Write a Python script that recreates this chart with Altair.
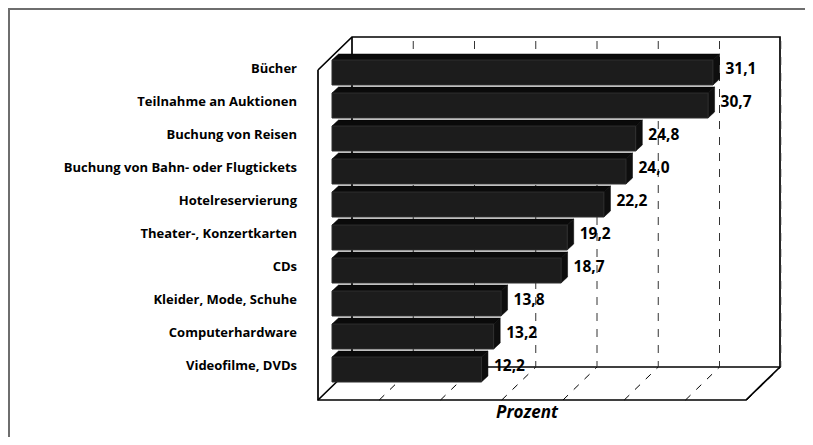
import altair as alt
import pandas as pd

categories = ["Bücher", "Teilnahme an Auktionen", "Buchung von Reisen",
              "Buchung von Bahn- oder Flugtickets", "Hotelreservierung",
              "Theater-, Konzertkarten", "CDs", "Kleider, Mode, Schuhe",
              "Computerhardware", "Videofilme, DVDs"]
values = [31.1, 30.7, 24.8, 24.0, 22.2, 19.2, 18.7, 13.8, 13.2, 12.2]
value_labels = ["31,1", "30,7", "24,8", "24,0", "22,2", "19,2", "18,7", "13,8", "13,2", "12,2"]
grid_ticks = [5, 10, 15, 20, 25, 30, 35]

W, H = 797, 429
PX_X, PX_Y = 12.25, 33.0          # pixels per unit, pixels per row
X0, Y0 = 332 - 8, 60 - 8          # where value 0 and row 0 fall inside the chart
def ux(px): return px / PX_X
def uy(px): return px / PX_Y

x_scale = alt.Scale(domain=[-X0 / PX_X, (W - X0) / PX_X], range=[0, W], nice=False, zero=False)
y_scale = alt.Scale(domain=[(H - Y0) / PX_Y, -Y0 / PX_Y], range=[H, 0], nice=False, zero=False)
X = lambda f: alt.X(f, type="quantitative", scale=x_scale, axis=None)
Y = lambda f: alt.Y(f, type="quantitative", scale=y_scale, axis=None)
X2 = lambda f: alt.X2(f)
Y2 = lambda f: alt.Y2(f)

# geometry of the box, in data units
depth_x, depth_y = ux(6.5), uy(6)
bar_h = uy(25)
back_l, back_r = ux(20), ux(448)
front_l, front_r = ux(-14), ux(414)
top_back, floor_back, floor_front, top_front = uy(-23), uy(307), uy(340), uy(10)

frame = pd.DataFrame([
    (0, front_l, top_front), (0, back_l, top_back), (0, back_r, top_back), (0, back_r, floor_back),
    (0, front_r, floor_front), (0, front_l, floor_front), (0, front_l, top_front),
    (1, back_l, top_back), (1, back_l, floor_back), (1, front_l, floor_front),
    (2, back_l, floor_back), (2, back_r, floor_back),
], columns=["id", "x", "y"]).reset_index()

frame_layer = alt.Chart(frame).mark_line(color="#000000", strokeWidth=1.7, strokeJoin="miter").encode(
    x=X("x"), y=Y("y"), detail="id:N", order="index:Q")

wall = pd.DataFrame({"x": [back_l + t for t in grid_ticks],
                     "y": [uy(-19)] * len(grid_ticks),
                     "y2": [floor_back] * len(grid_ticks)})
wall_layer = alt.Chart(wall).mark_rule(color="#333333", strokeWidth=1, strokeDash=[8, 8]).encode(
    x=X("x"), y=Y("y"), y2=Y2("y2"))

floor_rows = []
for t in grid_ticks:
    floor_rows.append((t, front_l + t, floor_front))
    floor_rows.append((t, back_l + t, floor_back))
floor = pd.DataFrame(floor_rows, columns=["id", "x", "y"]).reset_index()
floor_layer = alt.Chart(floor).mark_line(color="#000000", strokeWidth=1, strokeDash=[7, 8]).encode(
    x=X("x"), y=Y("y"), detail="id:N", order="index:Q")

rows = list(range(len(values)))
front = pd.DataFrame({"r": rows, "r2": [r + bar_h for r in rows], "v0": [0] * len(values), "v": values})
front_layer = alt.Chart(front).mark_rect(fill="#1c1c1c", stroke="#2e2e2e", strokeWidth=1).encode(
    x=X("v0"), x2=X2("v"), y=Y("r"), y2=Y2("r2"))

top_rows, side_rows = [], []
for r, v in zip(rows, values):
    top_rows += [(r, r - depth_y, depth_x, v + depth_x), (r, r, 0, v)]
    side_rows += [(r, v, r, r + bar_h), (r, v + depth_x, r - depth_y, r + bar_h - depth_y)]
top = pd.DataFrame(top_rows, columns=["id", "y", "a", "b"])
side = pd.DataFrame(side_rows, columns=["id", "x", "a", "b"])
top_layer = alt.Chart(top).mark_area(orient="horizontal", color="#0a0a0a", stroke="#000000", strokeWidth=0.5).encode(
    y=Y("y"), x=X("a"), x2=X2("b"), detail="id:N")
side_layer = alt.Chart(side).mark_area(orient="vertical", color="#0e0e0e", stroke="#000000", strokeWidth=0.5).encode(
    x=X("x"), y=Y("a"), y2=Y2("b"), detail="id:N")

labels = pd.DataFrame({"ly": [r + uy(9) for r in rows], "cat": categories,
                       "lx": [v + ux(12.5) for v in values], "txt": value_labels,
                       "catx": [ux(297 - 332)] * len(values)})
cat_layer = alt.Chart(labels).mark_text(font="Open Sans", fontWeight="bold", fontSize=13, align="right",
                                        baseline="middle", color="#000000").encode(
    x=X("catx"), y=Y("ly"), text="cat:N")
val_layer = alt.Chart(labels).mark_text(font="Open Sans", fontWeight="bold", fontSize=15.5, align="left",
                                        baseline="middle", color="#000000").encode(
    x=X("lx"), y=Y("ly"), text="txt:N")

title = pd.DataFrame({"x": [ux(527 - 332)], "y": [uy(413 - 60)], "t": ["Prozent"]})
title_layer = alt.Chart(title).mark_text(font="Open Sans", fontWeight="bold", fontStyle="italic", fontSize=17,
                                         align="center", baseline="middle", color="#000000").encode(
    x=X("x"), y=Y("y"), text="t:N")

border_top = alt.Chart(pd.DataFrame({"a": [0]})).mark_rule(color="#6e6e6e", strokeWidth=2).encode(
    x=alt.value(0), x2=alt.value(W), y=alt.value(1))
border_left = alt.Chart(pd.DataFrame({"a": [0]})).mark_rule(color="#6e6e6e", strokeWidth=2).encode(
    y=alt.value(0), y2=alt.value(H), x=alt.value(1))

chart = alt.layer(border_top, border_left, frame_layer, wall_layer, floor_layer,
                  top_layer, side_layer, front_layer, cat_layer, val_layer, title_layer).properties(
    width=W, height=H, padding=0, autosize=alt.AutoSizeParams(type="none"),
    background="#ffffff").configure_view(stroke=None)

chart.save("out.html", embed_options={"renderer": "svg", "actions": False})
